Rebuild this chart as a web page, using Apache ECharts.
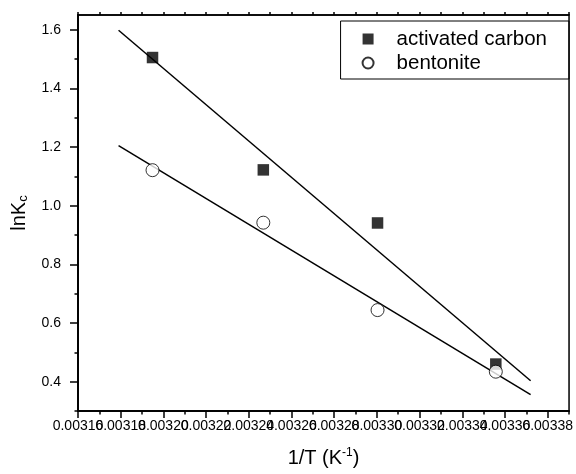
<!DOCTYPE html>
<html>
<head>
<meta charset="utf-8">
<script src="https://cdn.jsdelivr.net/npm/echarts@6/dist/echarts.min.js"></script>
<style>
html,body{margin:0;padding:0;background:#fff;}
#chart{width:576px;height:474px;}
</style>
</head>
<body>
<div id="chart"></div>
<script>
// Data (1/T in K^-1, lnKc)
const invT = [0.0031949, 0.0032468, 0.0033003, 0.0033557];
const carbonLnK = [1.505, 1.122, 0.941, 0.460];
const bentoniteLnK = [1.121, 0.942, 0.644, 0.434];
// Linear-fit line endpoints
const fitX = [0.003179, 0.003372];
const carbonFit = [1.598, 0.403];
const bentoniteFit = [1.205, 0.356];
// Tick labels
const xMajorTicks = [0.00316, 0.00318, 0.00320, 0.00322, 0.00324, 0.00326, 0.00328, 0.00330, 0.00332, 0.00334, 0.00336, 0.00338];
const xMinorTicks = [0.00317, 0.00319, 0.00321, 0.00323, 0.00325, 0.00327, 0.00329, 0.00331, 0.00333, 0.00335, 0.00337, 0.00339];
const yMajorTicks = [0.4, 0.6, 0.8, 1.0, 1.2, 1.4, 1.6];
const yMinorTicks = [0.3, 0.5, 0.7, 0.9, 1.1, 1.3, 1.5];
const seriesNames = ['activated carbon', 'bentonite'];

const FONT = 'Liberation Sans, Arial, sans-serif';
const chart = echarts.init(document.getElementById('chart'), null, {renderer: 'canvas'});

// labels split over two overlaid axes so that overlapping labels are all drawn (as in the original)
const xLabelsA = xMajorTicks.filter((v, i) => i % 2 === 0);
const xLabelsB = xMajorTicks.filter((v, i) => i % 2 === 1);

const AX = {color: '#000', width: 1.5};
const xBase = {
  type: 'value', min: 0.00316, max: 0.00339, gridIndex: 0, position: 'bottom',
  splitLine: {show: false},
  axisLine: {show: true, onZero: false, lineStyle: AX}
};
const yBase = {
  type: 'value', min: 0.3, max: 1.65, gridIndex: 0, position: 'left',
  splitLine: {show: false},
  axisLine: {show: true, onZero: false, lineStyle: AX}
};
const xLabelStyle = {show: true, showMinLabel: true, showMaxLabel: true, hideOverlap: false,
  margin: 8, fontFamily: FONT, fontSize: 14, color: '#000', formatter: v => v.toFixed(5)};

const option = {
  backgroundColor: '#fff',
  animation: false,
  grid: {left: 78, right: 4, top: 15, bottom: 63, show: true, borderColor: '#000', borderWidth: 1.5, containLabel: false},
  legend: {
    data: [
      {name: seriesNames[0], icon: 'rect'},
      {name: seriesNames[1], icon: 'circle'}
    ],
    orient: 'vertical',
    right: 7, top: 21,
    itemWidth: 11, itemHeight: 11, itemGap: 0,
    padding: [6, 22, 4, 21],
    borderColor: '#000', borderWidth: 1,
    textStyle: {fontFamily: FONT, fontSize: 20.5, lineHeight: 24, color: '#000', padding: [0, 0, 0, 18]}
  },
  xAxis: [
    Object.assign({}, xBase, {
      name: '1/T (K{sup|-1})',
      nameLocation: 'middle', nameGap: 36,
      nameTextStyle: {fontFamily: FONT, fontSize: 20, color: '#000',
        rich: {sup: {fontFamily: FONT, fontSize: 12, color: '#000', verticalAlign: 'top', padding: [0, 0, 10, 0]}}},
      axisTick: {show: true, inside: false, length: 7, customValues: xMajorTicks, lineStyle: AX},
      axisLabel: Object.assign({}, xLabelStyle, {customValues: xLabelsA})
    }),
    Object.assign({}, xBase, {
      axisTick: {show: true, inside: false, length: 3.5, customValues: xMinorTicks, lineStyle: AX},
      axisLabel: {show: false}
    }),
    Object.assign({}, xBase, {
      axisLine: {show: false},
      axisTick: {show: false},
      axisLabel: Object.assign({}, xLabelStyle, {customValues: xLabelsB})
    }),
    Object.assign({}, xBase, {
      position: 'top',
      axisTick: {show: true, inside: false, length: 3, customValues: xMajorTicks.concat(xMinorTicks), lineStyle: AX},
      axisLabel: {show: false}
    })
  ],
  yAxis: [
    Object.assign({}, yBase, {
      name: 'lnK{sub|c}',
      nameLocation: 'middle', nameGap: 48, nameRotate: 90,
      nameTextStyle: {fontFamily: FONT, fontSize: 20, color: '#000',
        rich: {sub: {fontFamily: FONT, fontSize: 13, color: '#000', verticalAlign: 'bottom', padding: [8, 0, 0, 0]}}},
      axisTick: {show: true, inside: false, length: 8, customValues: yMajorTicks, lineStyle: AX},
      axisLabel: {show: true, customValues: yMajorTicks, showMinLabel: true, showMaxLabel: true,
        margin: 17, fontFamily: FONT, fontSize: 14, color: '#000',
        formatter: v => v.toFixed(1)}
    }),
    Object.assign({}, yBase, {
      axisTick: {show: true, inside: false, length: 3.5, customValues: yMinorTicks, lineStyle: AX},
      axisLabel: {show: false}
    })
  ],
  series: [
    {
      name: seriesNames[0], type: 'scatter', xAxisIndex: 0, yAxisIndex: 0,
      symbol: 'rect', symbolSize: 11.5,
      itemStyle: {color: '#000', borderColor: '#000', borderWidth: 0},
      data: invT.map((x, i) => [x, carbonLnK[i]]), z: 5
    },
    {
      name: seriesNames[1], type: 'scatter', xAxisIndex: 0, yAxisIndex: 0,
      symbol: 'circle', symbolSize: 13,
      itemStyle: {color: '#fff', borderColor: '#000', borderWidth: 1},
      data: invT.map((x, i) => [x, bentoniteLnK[i]]), z: 5
    },
    {
      name: 'carbon fit', type: 'line', xAxisIndex: 0, yAxisIndex: 0,
      symbol: 'none', lineStyle: {color: '#000', width: 1.5}, z: 3,
      data: fitX.map((x, i) => [x, carbonFit[i]])
    },
    {
      name: 'bentonite fit', type: 'line', xAxisIndex: 0, yAxisIndex: 0,
      symbol: 'none', lineStyle: {color: '#000', width: 1.5}, z: 3,
      data: fitX.map((x, i) => [x, bentoniteFit[i]])
    }
  ]
};
chart.setOption(option);
</script>
</body>
</html>
